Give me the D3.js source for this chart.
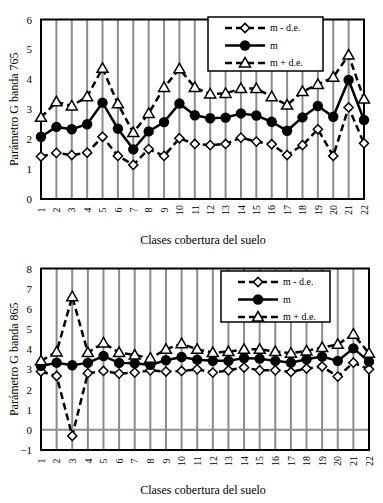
<!DOCTYPE html>
<html>
<head>
<meta charset="utf-8">
<script src="https://cdn.jsdelivr.net/npm/d3@7"></script>
<style>
  body { margin: 0; background: #fff; }
  svg { display: block; }
  svg text { font-family: "Liberation Serif", "Times New Roman", serif; }
</style>
</head>
<body>
<svg id="chart" width="383" height="503"></svg>
<script>
// clases de cobertura del suelo
var clases = d3.range(1, 23).map(String);

// banda 765
var m765 = [2.08, 2.41, 2.33, 2.50, 3.22, 2.35, 1.66, 2.26, 2.57, 3.19, 2.80,
            2.70, 2.72, 2.86, 2.79, 2.58, 2.28, 2.73, 3.11, 2.75, 3.98, 2.64];
var mas765 = [2.73, 3.25, 3.11, 3.42, 4.37, 3.18, 2.22, 2.86, 3.73, 4.35, 3.73,
              3.51, 3.53, 3.69, 3.69, 3.42, 3.14, 3.59, 3.83, 4.07, 4.81, 3.34];
var menos765 = [1.42, 1.54, 1.47, 1.55, 2.08, 1.44, 1.14, 1.67, 1.44, 2.03, 1.84,
                1.80, 1.84, 2.05, 1.92, 1.83, 1.47, 1.80, 2.33, 1.44, 3.06, 1.86];

// banda 865
var m865 = [3.17, 3.33, 3.20, 3.32, 3.66, 3.32, 3.30, 3.22, 3.45, 3.61, 3.48,
            3.42, 3.42, 3.56, 3.53, 3.42, 3.33, 3.50, 3.63, 3.42, 4.04, 3.38];
var mas865 = [3.42, 3.86, 6.60, 3.83, 4.31, 3.83, 3.71, 3.55, 3.99, 4.27, 3.99,
              3.83, 3.88, 3.99, 3.99, 3.88, 3.80, 3.91, 4.08, 4.24, 4.74, 3.80];
var menos865 = [2.89, 2.67, -0.30, 2.81, 2.92, 2.79, 2.84, 2.95, 2.89, 2.92, 3.00,
                2.84, 2.95, 3.09, 2.95, 2.95, 2.87, 3.04, 3.14, 2.64, 3.33, 3.00];

var ticks765 = [0, 1, 2, 3, 4, 5, 6];
var ticks865 = [-1, 0, 1, 2, 3, 4, 5, 6, 7, 8];

var svg = d3.select("#chart");

function marker(g, tipo, cx, cy) {
  if (tipo == "circle") {
    g.append("circle").attr("cx", cx).attr("cy", cy).attr("r", 5.2)
      .attr("fill", "#000");
  } else if (tipo == "diamond") {
    g.append("path")
      .attr("d", "M" + cx + "," + (cy - 4.6) + "L" + (cx + 4.6) + "," + cy + "L" + cx + "," + (cy + 4.6) + "L" + (cx - 4.6) + "," + cy + "Z")
      .attr("fill", "#fff").attr("stroke", "#000").attr("stroke-width", 1.5);
  } else {
    g.append("path")
      .attr("d", "M" + cx + "," + (cy - 5.5) + "L" + (cx + 5.5) + "," + (cy + 4) + "L" + (cx - 5.5) + "," + (cy + 4) + "Z")
      .attr("fill", "#fff").attr("stroke", "#000").attr("stroke-width", 1.5);
  }
}

function drawChart(o) {
  var g = svg.append("g");

  var x = d3.scalePoint().domain(clases).range([o.left, o.right]);
  var y = d3.scaleLinear().domain(o.domain).range([o.bottom, o.top]);

  // vertical grid lines
  g.selectAll(".vgrid").data(clases).enter().append("line")
    .attr("x1", function (d) { return x(d); })
    .attr("x2", function (d) { return x(d); })
    .attr("y1", o.top).attr("y2", o.bottom)
    .attr("stroke", "#8c8c8c").attr("stroke-width", 2);

  // zero line (only when 0 is inside)
  if (o.domain[0] < 0) {
    g.append("line")
      .attr("x1", o.left).attr("x2", o.right)
      .attr("y1", y(0)).attr("y2", y(0))
      .attr("stroke", "#8c8c8c").attr("stroke-width", 2);
  }

  g.append("rect")
    .attr("x", o.left).attr("y", o.top)
    .attr("width", o.right - o.left).attr("height", o.bottom - o.top)
    .attr("fill", "none").attr("stroke", "#000").attr("stroke-width", 2);

  // axes
  var ya = g.append("g")
    .attr("transform", "translate(" + (o.left - 9) + ",0)")
    .call(d3.axisLeft(y).tickValues(o.ticks).tickFormat(d3.format("d")).tickSize(0).tickPadding(0));
  ya.attr("font-family", null);
  ya.select(".domain").remove();
  ya.selectAll("text").attr("font-size", 11).attr("fill", "#000");

  var xa = g.append("g")
    .attr("transform", "translate(0," + (o.bottom + 11) + ")")
    .call(d3.axisBottom(x).tickSize(0).tickPadding(0));
  xa.attr("font-family", null);
  xa.select(".domain").remove();
  xa.selectAll("text")
    .attr("font-size", 10).attr("fill", "#000")
    .attr("y", 0).attr("dy", "0.32em")
    .attr("transform", "rotate(-90)")
    .attr("text-anchor", "middle");

  // series
  var series = [
    { vals: o.menos, dash: "7,4", mk: "diamond" },
    { vals: o.m, dash: null, mk: "circle" },
    { vals: o.mas, dash: "7,4", mk: "triangle" }
  ];
  var line = d3.line()
    .x(function (d, i) { return x(clases[i]); })
    .y(function (d) { return y(d); });

  series.forEach(function (s) {
    g.append("path").datum(s.vals)
      .attr("d", line)
      .attr("fill", "none").attr("stroke", "#000").attr("stroke-width", 2.5)
      .attr("stroke-dasharray", s.dash);
    s.vals.forEach(function (v, i) { marker(g, s.mk, x(clases[i]), y(v)); });
  });

  // titles
  g.append("text")
    .attr("transform", "translate(14," + ((o.top + o.bottom) / 2) + ") rotate(-90)")
    .attr("text-anchor", "middle").attr("dy", "0.32em")
    .attr("font-size", 12).text(o.ylabel);

  g.append("text")
    .attr("x", 203).attr("y", o.xtitleY)
    .attr("text-anchor", "middle").attr("font-size", 12)
    .text("Clases cobertura del suelo");

  // legend
  var L = o.legend;
  var lg = g.append("g");
  lg.append("rect")
    .attr("x", L.x).attr("y", L.y).attr("width", L.w).attr("height", L.h)
    .attr("fill", "#fff").attr("stroke", "#000").attr("stroke-width", 1.5);
  var items = [
    { name: "m - d.e.", dash: "7,4", mk: "diamond" },
    { name: "m", dash: null, mk: "circle" },
    { name: "m + d.e.", dash: "7,4", mk: "triangle" }
  ];
  items.forEach(function (it, i) {
    var yy = L.y + 11 + i * 17.5;
    lg.append("line")
      .attr("x1", L.x + 17).attr("x2", L.x + 57)
      .attr("y1", yy).attr("y2", yy)
      .attr("stroke", "#000").attr("stroke-width", 2.5)
      .attr("stroke-dasharray", it.dash);
    marker(lg, it.mk, L.x + 37, yy);
    lg.append("text")
      .attr("x", L.x + 62).attr("y", yy).attr("dy", "0.32em")
      .attr("font-size", 10).text(it.name);
  });
}

drawChart({
  left: 41, right: 364, top: 19.5, bottom: 199,
  domain: [0, 6], ticks: ticks765,
  m: m765, mas: mas765, menos: menos765,
  ylabel: "Parámetro G banda 765",
  xtitleY: 244,
  legend: { x: 208, y: 17, w: 115, h: 54 }
});

drawChart({
  left: 41, right: 369, top: 268.5, bottom: 450,
  domain: [-1, 8], ticks: ticks865,
  m: m865, mas: mas865, menos: menos865,
  ylabel: "Parámetro G banda 865",
  xtitleY: 494,
  legend: { x: 221, y: 271, w: 109, h: 51 }
});
</script>
</body>
</html>
